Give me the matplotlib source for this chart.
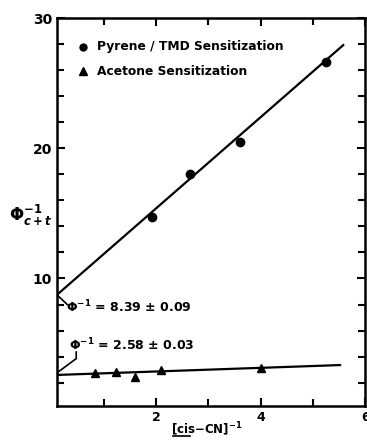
import numpy as np
import matplotlib.pyplot as plt

# datos
pyrene_x = [1.92, 2.65, 3.60, 5.26]
pyrene_y = [14.7, 18.0, 20.5, 26.6]
acetone_x = [0.82, 1.24, 1.60, 2.10, 4.00]
acetone_y = [2.75, 2.80, 2.45, 3.00, 3.10]

pyrene_fit = (8.39, 3.50)   # intercetta, pendenza
acetone_fit = (2.58, 0.14)
pyrene_xmax = 5.58
acetone_xmax = 5.52

xticks_major = [2, 4, 6]
yticks_major = [10, 20, 30]

plt.rcParams['font.family'] = 'DejaVu Sans'
plt.rcParams['font.weight'] = 'bold'

fig = plt.figure(figsize=(3.67, 4.40), dpi=100)
ax = fig.add_axes([0.155, 0.077, 0.84, 0.882])

# linee di fit
xf = np.array([0.0, pyrene_xmax])
ax.plot(xf, pyrene_fit[0] + pyrene_fit[1] * xf, color='black', lw=1.6)
xa = np.array([0.0, acetone_xmax])
ax.plot(xa, acetone_fit[0] + acetone_fit[1] * xa, color='black', lw=1.6)

ax.plot(pyrene_x, pyrene_y, 'o', color='black', ms=6)
ax.plot(acetone_x, acetone_y, '^', color='black', ms=6)

# legenda a mano
ax.plot([0.6], [27.8], 'o', color='black', ms=5)
ax.text(0.87, 27.8, 'Pyrene / TMD Sensitization', fontsize=8.8, fontweight='bold', va='center')
ax.plot([0.6], [25.9], '^', color='black', ms=6)
ax.text(0.87, 25.9, 'Acetone Sensitization', fontsize=8.8, fontweight='bold', va='center')

# annotazioni intercette (con trattini di richiamo)
ax.text(0.28, 7.8, r'$\Phi^{-1}$ = 8.39 $\pm$ 0.09', fontsize=9, fontweight='bold', va='center')
ax.plot([0.1, 0.3], [8.75, 8.0], color='black', lw=1.2)
ax.text(0.33, 4.9, r'$\Phi^{-1}$ = 2.58 $\pm$ 0.03', fontsize=9, fontweight='bold', va='center')
ax.plot([0.47, 0.47, 0.1], [4.35, 3.85, 2.75], color='black', lw=1.2)

ax.set_xlim(0.1, 6)
ax.set_ylim(0.2, 30)
ax.set_xticks(xticks_major)
ax.set_xticks([1, 3, 5], minor=True)
ax.set_yticks(yticks_major)
ax.set_yticks(np.arange(2, 30, 2), minor=True)
ax.tick_params(which='both', direction='in', top=True, right=True, width=1.5)
ax.tick_params(which='major', length=6, labelsize=10)
ax.tick_params(which='minor', length=5)
ax.tick_params(axis='x', labelsize=9)
for lab in ax.get_xticklabels() + ax.get_yticklabels():
    lab.set_fontweight('bold')
for s in ax.spines.values():
    s.set_linewidth(1.8)

# etichetta asse y
fig.text(0.025, 0.51, r'$\Phi^{-1}_{c+t}$', fontsize=12, ha='left', va='center')

# etichetta asse x con "cis" sottolineato
fig.text(0.465, 0.025, r'[cis$-$CN]$^{-1}$', fontsize=8.5, fontweight='bold', ha='left', va='center')
fig.add_artist(plt.Line2D([0.472, 0.517], [0.008, 0.008], color='black', lw=1.2))

plt.savefig('out.png', dpi=100)
